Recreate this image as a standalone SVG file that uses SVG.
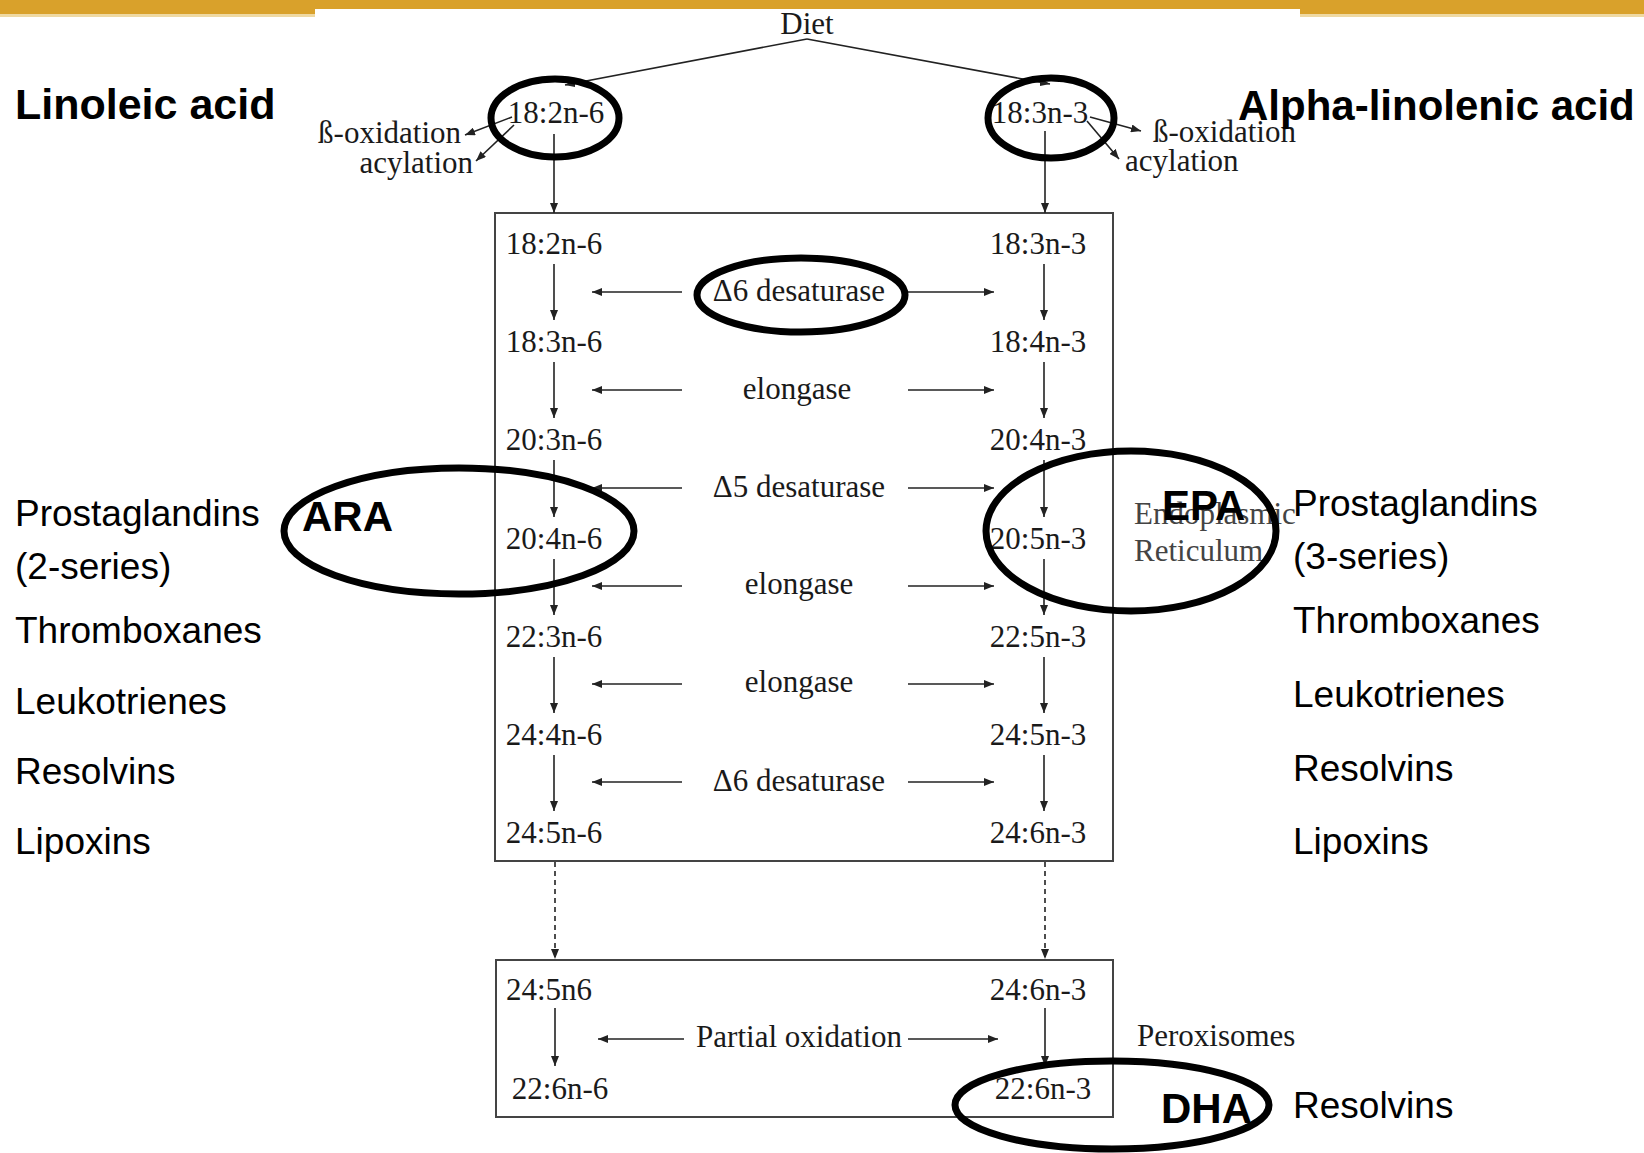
<svg xmlns="http://www.w3.org/2000/svg" width="1644" height="1153" viewBox="0 0 1644 1153">
<style>
.ser{font-family:"Liberation Serif","Times New Roman",serif;font-size:31px;fill:#1a1a1a}
.mid{text-anchor:middle}
.end{text-anchor:end}
.san{font-family:"Liberation Sans",Arial,sans-serif;font-size:37px;fill:#000}
.bold{font-family:"Liberation Sans",Arial,sans-serif;font-size:42px;font-weight:bold;fill:#000}
.ln{stroke:#222;stroke-width:1.6;fill:none}
.arr{marker-end:url(#ah)}
.dash{stroke-dasharray:5 4}
.box{fill:none;stroke:#444;stroke-width:2}
.ring{fill:none;stroke:#000;stroke-width:7}
.gray{fill:#444}
</style>
<defs>
<marker id="ah" viewBox="0 0 10 8" refX="10" refY="4" markerWidth="10" markerHeight="8" markerUnits="userSpaceOnUse" orient="auto">
<path d="M0,0 L10,4 L0,8 z" fill="#222"/>
</marker>
</defs>
<rect width="1644" height="1153" fill="#fff"/>
<g id="header">
<rect x="0" y="0" width="1644" height="9" fill="#D9A12B"/>
<rect x="0" y="9" width="315" height="5" fill="#D9A12B"/>
<rect x="1300" y="9" width="344" height="5" fill="#D9A12B"/>
<rect x="0" y="14" width="315" height="3" fill="#EFD9A2"/>
<rect x="1300" y="14" width="344" height="3" fill="#EFD9A2"/>
</g>
<g id="boxes">
<rect id="er-box" class="box" x="495" y="213" width="618" height="648"/>
<rect id="perox-box" class="box" x="496" y="960" width="617" height="157"/>
</g>
<g id="connectors">
<path class="ln arr" d="M807,39 L565,85"/>
<path class="ln arr" d="M807,39 L1050,84"/>
<path class="ln arr" d="M512,117 L465,135"/>
<path class="ln arr" d="M514,125 L476,161"/>
<path class="ln arr" d="M1090,117 L1141,131"/>
<path class="ln arr" d="M1087,121 L1119,159"/>
<path class="ln arr" d="M554,134 L554,213"/>
<path class="ln arr" d="M1045,131 L1045,213"/>
<path class="ln arr" d="M554,264 L554,320"/>
<path class="ln arr" d="M554,362 L554,418"/>
<path class="ln arr" d="M554,460 L554,517"/>
<path class="ln arr" d="M554,559 L554,615"/>
<path class="ln arr" d="M554,657 L554,713"/>
<path class="ln arr" d="M554,755 L554,811"/>
<path class="ln arr" d="M1044,264 L1044,320"/>
<path class="ln arr" d="M1044,362 L1044,418"/>
<path class="ln arr" d="M1044,460 L1044,517"/>
<path class="ln arr" d="M1044,559 L1044,615"/>
<path class="ln arr" d="M1044,657 L1044,713"/>
<path class="ln arr" d="M1044,755 L1044,811"/>
<path class="ln arr" d="M682,292 L592,292"/>
<path class="ln arr" d="M908,292 L994,292"/>
<path class="ln arr" d="M682,390 L592,390"/>
<path class="ln arr" d="M908,390 L994,390"/>
<path class="ln arr" d="M682,488 L592,488"/>
<path class="ln arr" d="M908,488 L994,488"/>
<path class="ln arr" d="M682,586 L592,586"/>
<path class="ln arr" d="M908,586 L994,586"/>
<path class="ln arr" d="M682,684 L592,684"/>
<path class="ln arr" d="M908,684 L994,684"/>
<path class="ln arr" d="M682,782 L592,782"/>
<path class="ln arr" d="M908,782 L994,782"/>
<path class="ln arr dash" d="M555,862 L555,959"/>
<path class="ln arr dash" d="M1045,862 L1045,959"/>
<path class="ln arr" d="M555,1008 L555,1066"/>
<path class="ln arr" d="M1045,1008 L1045,1066"/>
<path class="ln arr" d="M684,1039 L598,1039"/>
<path class="ln arr" d="M908,1039 L998,1039"/>
</g>
<g id="diet"><text class="ser mid" x="807" y="34">Diet</text></g>
<g id="n6-top"><text class="ser mid" x="556" y="123">18:2n-6</text></g>
<g id="n3-top"><text class="ser mid" x="1040" y="123">18:3n-3</text></g>
<g id="n6-fates">
<text class="ser end" x="461" y="143">ß-oxidation</text>
<text class="ser end" x="473" y="173">acylation</text>
</g>
<g id="n3-fates">
<text class="ser" x="1153" y="142">ß-oxidation</text>
<text class="ser" x="1125" y="171">acylation</text>
</g>
<g id="n6-chain">
<text class="ser mid" x="554" y="254">18:2n-6</text>
<text class="ser mid" x="554" y="352">18:3n-6</text>
<text class="ser mid" x="554" y="450">20:3n-6</text>
<text class="ser mid" x="554" y="549">20:4n-6</text>
<text class="ser mid" x="554" y="647">22:3n-6</text>
<text class="ser mid" x="554" y="745">24:4n-6</text>
<text class="ser mid" x="554" y="843">24:5n-6</text>
</g>
<g id="n3-chain">
<text class="ser mid" x="1038" y="254">18:3n-3</text>
<text class="ser mid" x="1038" y="352">18:4n-3</text>
<text class="ser mid" x="1038" y="450">20:4n-3</text>
<text class="ser mid" x="1038" y="549">20:5n-3</text>
<text class="ser mid" x="1038" y="647">22:5n-3</text>
<text class="ser mid" x="1038" y="745">24:5n-3</text>
<text class="ser mid" x="1038" y="843">24:6n-3</text>
</g>
<g id="enzymes">
<text class="ser mid" x="799" y="301">Δ6 desaturase</text>
<text class="ser mid" x="797" y="399">elongase</text>
<text class="ser mid" x="799" y="497">Δ5 desaturase</text>
<text class="ser mid" x="799" y="594">elongase</text>
<text class="ser mid" x="799" y="692">elongase</text>
<text class="ser mid" x="799" y="791">Δ6 desaturase</text>
</g>
<g id="er-label">
<text class="ser gray" x="1134" y="524">Endoplasmic</text>
<text class="ser gray" x="1134" y="561">Reticulum</text>
</g>
<g id="perox-chain">
<text class="ser mid" x="549" y="1000">24:5n6</text>
<text class="ser mid" x="1038" y="1000">24:6n-3</text>
<text class="ser mid" x="560" y="1099">22:6n-6</text>
<text class="ser mid" x="1043" y="1099">22:6n-3</text>
<text class="ser mid" x="799" y="1047">Partial oxidation</text>
</g>
<g id="perox-label"><text class="ser" x="1137" y="1046">Peroxisomes</text></g>
<g id="titles">
<text class="bold" x="15" y="119" style="font-size:43px">Linoleic acid</text>
<text class="bold" x="1238" y="120">Alpha-linolenic acid</text>
</g>
<g id="n6-products">
<text class="san" x="15" y="526">Prostaglandins</text>
<text class="san" x="15" y="579">(2-series)</text>
<text class="san" x="15" y="643">Thromboxanes</text>
<text class="san" x="15" y="714">Leukotrienes</text>
<text class="san" x="15" y="784">Resolvins</text>
<text class="san" x="15" y="854">Lipoxins</text>
</g>
<g id="n3-products">
<text class="san" x="1293" y="516">Prostaglandins</text>
<text class="san" x="1293" y="569">(3-series)</text>
<text class="san" x="1293" y="633">Thromboxanes</text>
<text class="san" x="1293" y="707">Leukotrienes</text>
<text class="san" x="1293" y="781">Resolvins</text>
<text class="san" x="1293" y="854">Lipoxins</text>
<text class="san" x="1293" y="1118">Resolvins</text>
</g>
<g id="ara"><text class="bold" x="302" y="531">ARA</text></g>
<g id="epa"><text class="bold" x="1162" y="520">EPA</text></g>
<g id="dha"><text class="bold" x="1161" y="1123">DHA</text></g>
<g id="highlights">
<ellipse class="ring" cx="555" cy="118" rx="64" ry="39"/>
<ellipse class="ring" cx="1051" cy="118" rx="63" ry="40"/>
<ellipse class="ring" cx="801" cy="295" rx="104" ry="37"/>
<ellipse class="ring" cx="459" cy="531" rx="175" ry="63"/>
<ellipse class="ring" cx="1131" cy="531" rx="145" ry="80"/>
<ellipse class="ring" cx="1112" cy="1105" rx="157" ry="44"/>
</g>
</svg>
